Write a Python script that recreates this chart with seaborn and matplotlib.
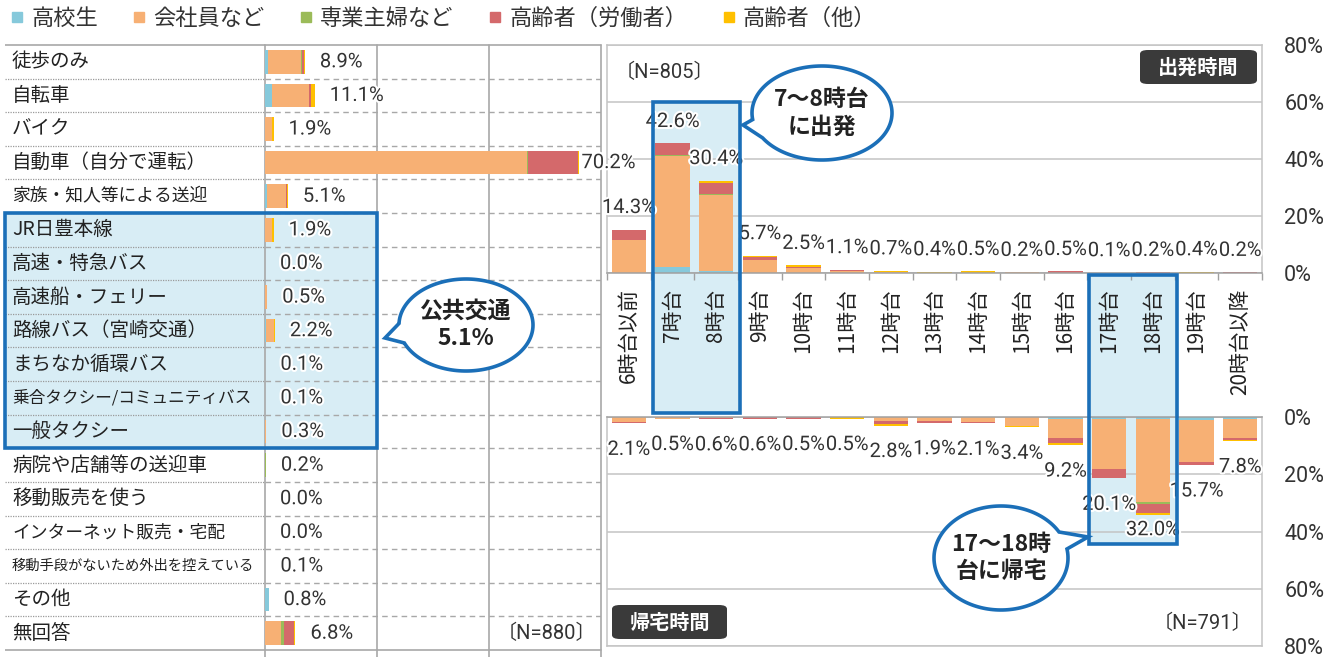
"""Travel mode (left) and departure / return hour (right) by respondent group."""

import matplotlib
matplotlib.use("Agg")
import matplotlib.pyplot as plt
import matplotlib.patheffects as pe
import numpy as np
import seaborn as sns
from matplotlib.lines import Line2D
from matplotlib.patches import FancyBboxPatch, Polygon, Rectangle

# ---------------------------------------------------------------------------
# Data
# ---------------------------------------------------------------------------

SERIES = ["高校生", "会社員など", "専業主婦など", "高齢者（労働者）", "高齢者（他）"]

MODES = [
    "徒歩のみ", "自転車", "バイク", "自動車（自分で運転）", "家族・知人等による送迎",
    "JR日豊本線", "高速・特急バス", "高速船・フェリー", "路線バス（宮崎交通）",
    "まちなか循環バス", "乗合タクシー/コミュニティバス", "一般タクシー",
    "病院や店舗等の送迎車", "移動販売を使う", "インターネット販売・宅配",
    "移動手段がないため外出を控えている", "その他", "無回答",
]
MODE_STUDENT = [0.7, 1.6, 0, 0, 0.5, 0, 0, 0, 0.3, 0, 0, 0, 0, 0, 0, 0, 0.8, 0]
MODE_WORKER = [7.4, 8.3, 1.6, 58.5, 4.2, 1.6, 0, 0.5, 1.7, 0.1, 0.1, 0.3, 0, 0, 0, 0.1, 0, 3.5]
MODE_HOUSE = [0.1, 0, 0, 0.2, 0, 0, 0, 0, 0, 0, 0, 0, 0.2, 0, 0, 0, 0, 0.8]
MODE_SENIOR_WORK = [0.5, 0.4, 0, 11.2, 0.3, 0, 0, 0, 0, 0, 0, 0, 0, 0, 0, 0, 0, 2.1]
MODE_SENIOR_OTHER = [0.2, 0.8, 0.3, 0.3, 0.1, 0.3, 0, 0, 0.2, 0, 0, 0, 0, 0, 0, 0, 0, 0.4]

HOURS = ["6時台以前", "7時台", "8時台", "9時台", "10時台", "11時台", "12時台", "13時台",
         "14時台", "15時台", "16時台", "17時台", "18時台", "19時台", "20時台以降"]
DEP_STUDENT = [0, 1.9, 0.6, 0, 0, 0, 0, 0, 0, 0, 0, 0, 0, 0, 0]
DEP_WORKER = [11.0, 36.6, 25.1, 4.4, 1.7, 0.7, 0.3, 0.1, 0.1, 0.2, 0, 0.1, 0, 0, 0]
DEP_HOUSE = [0, 0.4, 0.4, 0, 0, 0, 0, 0, 0, 0, 0, 0, 0, 0, 0]
DEP_SENIOR_WORK = [3.3, 3.7, 3.5, 0.8, 0.3, 0.4, 0, 0, 0, 0, 0.5, 0, 0.2, 0, 0.2]
DEP_SENIOR_OTHER = [0, 0, 0.8, 0.5, 0.5, 0, 0.4, 0.3, 0.4, 0, 0, 0, 0, 0.4, 0]

RET_STUDENT = [0, 0, 0, 0, 0, 0, 0, 0, 0, 0, 0.6, 0.6, 0.6, 0.9, 0.6]
RET_WORKER = [1.5, 0.5, 0.3, 0, 0, 0, 1.4, 1.4, 1.6, 2.9, 6.4, 16.5, 27.4, 13.9, 6.3]
RET_HOUSE = [0, 0, 0, 0, 0, 0, 0, 0, 0, 0, 0, 0, 0.5, 0, 0]
RET_SENIOR_WORK = [0.6, 0, 0.3, 0.6, 0.5, 0, 0.8, 0.5, 0.5, 0, 1.6, 3.0, 2.9, 0.9, 0.5]
RET_SENIOR_OTHER = [0, 0, 0, 0, 0, 0.5, 0.6, 0, 0, 0.5, 0.6, 0, 0.6, 0, 0.4]

# the source chart's bars run ~7% taller than its gridlines: 75 units fill the "80%" frame
HOUR_AXIS_MAX = 75
HOUR_AXIS_LABELS = ["0%", "20%", "40%", "60%", "80%"]

N_MODES, N_DEPART, N_RETURN = 880, 805, 791

# ---------------------------------------------------------------------------
# Style
# ---------------------------------------------------------------------------

COLORS = ["#86c9db", "#f7b074", "#9bbb59", "#d4696b", "#ffc000"]
HILITE_FILL = "#d8edf5"
HILITE_EDGE = "#1b6fb8"
GRID = "#a8a8a8"
TEXT = "#222222"
W, H = 1334, 657

sns.set_style("white")
JP = "Noto Sans CJK JP"
NUM = ["Roboto", JP]
NUM_SIZE = 14.5
plt.rcParams["font.family"] = [JP, "DejaVu Sans"]
HALO = [pe.withStroke(linewidth=3, foreground="white")]


def fx(px):
    return px / W


def fy(py):
    return 1 - py / H


def stacked(ax, cats, layers, horizontal, width):
    """Overlay cumulative seaborn bars, widest first, to build a stack."""
    cum = np.cumsum(np.array(layers, dtype=float), axis=0)
    for k in range(len(layers) - 1, -1, -1):
        if horizontal:
            sns.barplot(x=cum[k], y=cats, orient="h", color=COLORS[k], saturation=1,
                        width=width, errorbar=None, linewidth=0, ax=ax)
        else:
            sns.barplot(x=cats, y=cum[k], color=COLORS[k], saturation=1,
                        width=width, errorbar=None, linewidth=0, ax=ax)
    return cum[-1]


def bubble(fig, cx, cy, rx, ry, gap, tip, text):
    t = np.radians(np.linspace(gap[1], gap[0] + 360, 160))
    pts = [(fx(cx + rx * np.cos(a)), fy(cy - ry * np.sin(a))) for a in t]
    pts.append((fx(tip[0]), fy(tip[1])))
    fig.add_artist(Polygon(pts, closed=True, transform=fig.transFigure, facecolor="white",
                           edgecolor=HILITE_EDGE, linewidth=2.6, zorder=6))
    fig.text(fx(cx), fy(cy), text, ha="center", va="center", fontsize=16.5,
             fontweight="bold", color=TEXT, linespacing=1.25, zorder=7)


def hilite(fig, x0, y0, x1, y1):
    fig.add_artist(Rectangle((fx(x0), fy(y1)), fx(x1) - fx(x0), fy(y0) - fy(y1),
                             transform=fig.transFigure, facecolor=HILITE_FILL,
                             edgecolor="none", zorder=-1))
    fig.add_artist(Rectangle((fx(x0), fy(y1)), fx(x1) - fx(x0), fy(y0) - fy(y1),
                             transform=fig.transFigure, facecolor="none",
                             edgecolor=HILITE_EDGE, linewidth=2.6, zorder=3))


def tab(fig, x0, y0, x1, y1, text):
    fig.add_artist(FancyBboxPatch((fx(x0), fy(y1)), fx(x1) - fx(x0), fy(y0) - fy(y1),
                                  boxstyle="round,pad=0,rounding_size=0.006",
                                  transform=fig.transFigure, facecolor="#3a3a3a",
                                  edgecolor="none", zorder=4))
    fig.text(fx((x0 + x1) / 2), fy((y0 + y1) / 2), text, ha="center", va="center",
             fontsize=14.5, fontweight="bold", color="white", zorder=5)


fig = plt.figure(figsize=(W / 100, H / 100), dpi=100)
fig.patch.set_facecolor("white")

rows = len(MODES)
top_px, bot_px = 45, 650

# ---------------------------------------------------------------------------
# Left: travel mode labels + stacked horizontal bars
# ---------------------------------------------------------------------------
ax_lab = fig.add_axes([fx(5), fy(bot_px), fx(265) - fx(5), fy(top_px) - fy(bot_px)])
ax_lab.set_xlim(0, 1)
ax_lab.set_ylim(rows - 0.5, -0.5)
ax_lab.axis("off")
for i, name in enumerate(MODES):
    if len(name) >= 16:
        size = 10.3
    elif len(name) >= 14:
        size = 12
    elif len(name) >= 11:
        size = 12.8
    else:
        size = 14
    ax_lab.text(0.027, i, name, ha="left", va="center", fontsize=size, color=TEXT)
ax_lab.hlines(np.arange(0.5, rows - 0.5), 0, 1, colors="#9a9a9a", linestyles=(0, (1, 1)),
              linewidth=0.9)
ax_lab.hlines([-0.5, rows - 0.5], 0, 1, colors=GRID, linewidth=1.2, clip_on=False)

ax_l = fig.add_axes([fx(265), fy(bot_px), fx(601) - fx(265), fy(top_px) - fy(bot_px)])
ax_l.set_facecolor("none")
totals = stacked(ax_l, MODES,
                 [MODE_STUDENT, MODE_WORKER, MODE_HOUSE, MODE_SENIOR_WORK, MODE_SENIOR_OTHER],
                 horizontal=True, width=0.7)
ax_l.set_xlim(0, 75)
ax_l.set_ylim(rows - 0.5, -0.5)
ax_l.set_xticks([])
ax_l.set_yticks([])
ax_l.set_xlabel("")
ax_l.set_ylabel("")
sns.despine(ax=ax_l, left=True, bottom=True)
for b in np.arange(0.5, rows - 0.5):
    ax_l.axhline(b, color=GRID, linestyle=(0, (4, 3)), linewidth=1, zorder=0.5)
for v in [0, 25, 50, 75]:
    ax_l.axvline(v, color=GRID, linewidth=1.2, zorder=0.5, ymin=-0.012, clip_on=False)
for yb in [-0.5, rows - 0.5]:
    ax_l.axhline(yb, color=GRID, linewidth=1.2, clip_on=False)
for i, v in enumerate(totals):
    ax_l.annotate(f"{v:.1f}%", (v, i), xytext=(2 if v > 60 else 15, 0),
                  textcoords="offset pixels", ha="left", va="center",
                  fontsize=NUM_SIZE, family=NUM, color="#333333",
                  path_effects=HALO, annotation_clip=False)
ax_l.text(0.985, rows - 1, f"〔N={N_MODES}〕", transform=ax_l.get_yaxis_transform(),
          ha="right", va="center", fontsize=NUM_SIZE, family=NUM, color="#333333")
ax_l.set_zorder(1)

# ---------------------------------------------------------------------------
# Right: departure hour (top) and return hour (bottom, hanging down)
# ---------------------------------------------------------------------------
def hour_axes(rect):
    ax = fig.add_axes(rect)
    ax.set_facecolor("none")
    return ax


ax_d = hour_axes([fx(607), fy(273), fx(1262) - fx(607), fy(45) - fy(273)])
dep_tot = stacked(ax_d, HOURS,
                  [DEP_STUDENT, DEP_WORKER, DEP_HOUSE, DEP_SENIOR_WORK, DEP_SENIOR_OTHER],
                  horizontal=False, width=0.78)
ax_d.set_ylim(0, HOUR_AXIS_MAX)
ax_d.set_xlim(-0.5, len(HOURS) - 0.5)

ax_r = hour_axes([fx(607), fy(646), fx(1262) - fx(607), fy(417) - fy(646)])
ret_tot = stacked(ax_r, HOURS,
                  [RET_STUDENT, RET_WORKER, RET_HOUSE, RET_SENIOR_WORK, RET_SENIOR_OTHER],
                  horizontal=False, width=0.78)
ax_r.set_ylim(HOUR_AXIS_MAX, 0)
ax_r.set_xlim(-0.5, len(HOURS) - 0.5)

for ax in (ax_d, ax_r):
    ax.set_xlabel("")
    ax.set_ylabel("")
    ax.set_yticks(np.linspace(0, HOUR_AXIS_MAX, len(HOUR_AXIS_LABELS)))
    ax.set_yticklabels(HOUR_AXIS_LABELS, family=NUM, fontsize=15.5, color="#333333")
    ax.yaxis.tick_right()
    ax.tick_params(axis="y", length=0, pad=16)
    ax.yaxis.grid(True, color="#c4c4c4", linewidth=1.1)
    ax.set_axisbelow(True)
    for s in ax.spines.values():
        s.set_color("#c4c4c4")
        s.set_linewidth(1.1)

ax_d.spines["bottom"].set_color("#a0a0a0")
ax_r.spines["top"].set_color("#a0a0a0")
ax_d.tick_params(axis="x", which="major", length=0, pad=11, labelrotation=90,
                 labelsize=15, labelcolor=TEXT)
ax_d.set_xticks(np.arange(-0.5, len(HOURS)), minor=True)
ax_d.tick_params(axis="x", which="minor", bottom=True, length=5, color="#a0a0a0", width=1)
ax_r.set_xticks([])

for i, v in enumerate(dep_tot):
    ax_d.annotate(f"{v:.1f}%", (i, v), xytext=(0, 22), textcoords="offset pixels",
                  ha="center", va="center", fontsize=NUM_SIZE, family=NUM,
                  color="#333333", path_effects=HALO)
for i, v in enumerate(ret_tot):
    # the tallest bar's label is tucked closer so it stays inside the highlight box
    ax_r.annotate(f"{v:.1f}%", (i, v), xytext=(0, -26 if v < 30 else -15),
                  textcoords="offset pixels", ha="center", va="center",
                  fontsize=NUM_SIZE, family=NUM, color="#333333", path_effects=HALO)

ax_d.text(0.012, 0.88, f"〔N={N_DEPART}〕", transform=ax_d.transAxes, ha="left", va="center",
          fontsize=NUM_SIZE, family=NUM, color="#333333")
ax_r.text(0.985, 0.1, f"〔N={N_RETURN}〕", transform=ax_r.transAxes, ha="right", va="center",
          fontsize=NUM_SIZE, family=NUM, color="#333333")

# ---------------------------------------------------------------------------
# Highlights, call-outs, tabs, legend
# ---------------------------------------------------------------------------
hilite(fig, 5, 213, 377, 448)
hilite(fig, 653, 102, 740, 413)
hilite(fig, 1089, 275, 1177, 544)

bubble(fig, 466, 325, 67, 46, (178, 203), (385, 338), "公共交通\n5.1%")
bubble(fig, 822, 113, 70, 47, (188, 212), (743, 125), "7～8時台\nに出発")
bubble(fig, 1001, 558, 67, 52, (10, 30), (1088, 537), "17～18時\n台に帰宅")

tab(fig, 1140, 50, 1257, 84, "出発時間")
tab(fig, 612, 605, 727, 639, "帰宅時間")

handles = [Line2D([], [], marker="s", linestyle="", markersize=7, color=c) for c in COLORS]
fig.legend(handles, SERIES, loc="upper left", bbox_to_anchor=(fx(9), fy(7)), ncol=5,
           frameon=False, fontsize=16, handlelength=0.7, handletextpad=0.3,
           columnspacing=1.5, borderaxespad=0, borderpad=0, labelcolor="#333333")

fig.savefig("out.png", dpi=100)
